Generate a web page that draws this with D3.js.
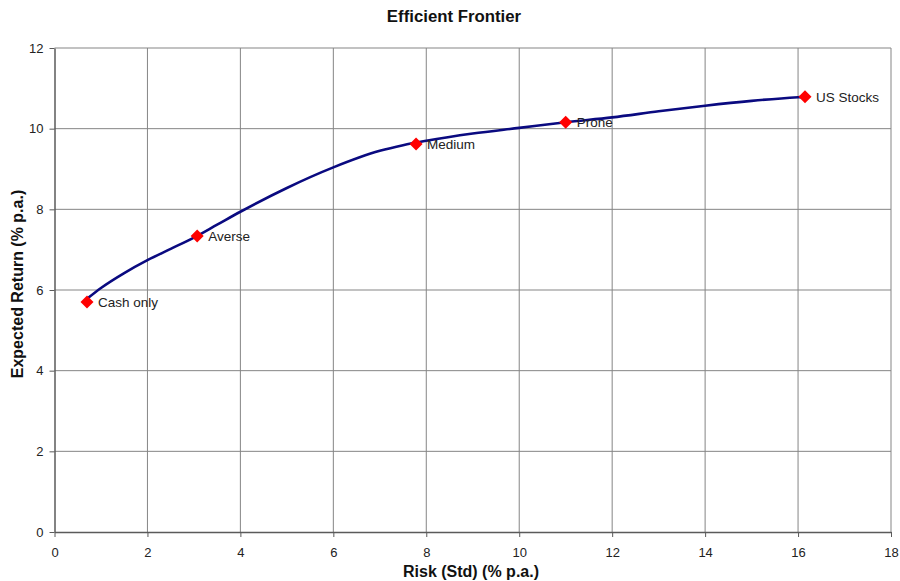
<!DOCTYPE html>
<html><head><meta charset="utf-8">
<script src="https://cdn.jsdelivr.net/npm/d3@7"></script>
<style>body{margin:0;background:#fff;} text{font-family:"Liberation Sans",Arial,sans-serif;}</style>
</head><body><svg id="c" width="900" height="581"></svg>
<script>
const frontierRisk = [0.72, 1, 1.5, 2, 2.5, 3, 3.5, 4, 5, 6, 7, 7.5, 8, 9, 10, 11, 12, 13, 14, 15, 16, 16.15];
const frontierReturn = [5.80, 6.05, 6.42, 6.74, 7.02, 7.30, 7.62, 7.94, 8.53, 9.04, 9.45, 9.59, 9.70, 9.88, 10.02, 10.16, 10.28, 10.43, 10.57, 10.69, 10.78, 10.79];
const portfolioNames = ["Cash only", "Averse", "Medium", "Prone", "US Stocks"];
const portfolioRisk = [0.70, 3.07, 7.78, 11.0, 16.15];
const portfolioReturn = [5.70, 7.34, 9.62, 10.16, 10.79];
const xTicks = [0, 2, 4, 6, 8, 10, 12, 14, 16, 18];
const yTicks = [0, 2, 4, 6, 8, 10, 12];

const svg = d3.select("#c");
const L = 54.5, R = 891, T = 48, B = 532;
const x = d3.scaleLinear().domain([0, 18]).range([L, R]);
const y = d3.scaleLinear().domain([0, 12]).range([B, T]);

// gridlines
svg.append("g").selectAll("line").data(xTicks.slice(1)).join("line")
  .attr("x1", d => x(d)).attr("x2", d => x(d)).attr("y1", T).attr("y2", B)
  .attr("stroke", "#858585").attr("stroke-width", 1);
svg.append("g").selectAll("line").data(yTicks.slice(1)).join("line")
  .attr("x1", L).attr("x2", R).attr("y1", d => y(d)).attr("y2", d => y(d))
  .attr("stroke", "#858585").attr("stroke-width", 1);

// axes
const xAxis = svg.append("g").attr("transform", `translate(0,${B})`)
  .call(d3.axisBottom(x).tickValues(xTicks).tickSize(5).tickSizeOuter(0).tickPadding(11));
const yAxis = svg.append("g").attr("transform", `translate(${L},0)`)
  .call(d3.axisLeft(y).tickValues(yTicks).tickSize(5).tickSizeOuter(0).tickPadding(6));
[xAxis, yAxis].forEach(a => {
  a.select(".domain").attr("stroke", "#5a5a5a").attr("stroke-width", 1.5);
  a.selectAll(".tick line").attr("stroke", "#5a5a5a");
  a.selectAll(".tick text").attr("font-size", 13).attr("fill", "#222")
    .attr("font-family", "Liberation Sans, Arial, sans-serif");
});

// frontier line
const pts = frontierRisk.map((r, i) => [r, frontierReturn[i]]);
svg.append("path").datum(pts)
  .attr("d", d3.line().x(d => x(d[0])).y(d => y(d[1])).curve(d3.curveMonotoneX))
  .attr("fill", "none").attr("stroke", "#0a0a80").attr("stroke-width", 2.6);

// markers
const ports = portfolioNames.map((n, i) => ({n, r: portfolioRisk[i], v: portfolioReturn[i]}));
svg.append("g").selectAll("path").data(ports).join("path")
  .attr("transform", d => `translate(${x(d.r)},${y(d.v)})`)
  .attr("d", "M0,-6.5L6.5,0L0,6.5L-6.5,0Z")
  .attr("fill", "#ff0000");
svg.append("g").selectAll("text").data(ports).join("text")
  .attr("x", d => x(d.r) + 11).attr("y", d => y(d.v) + 5)
  .attr("font-size", 13.5).attr("fill", "#222").text(d => d.n);

// titles
svg.append("text").attr("x", 454).attr("y", 22).attr("text-anchor", "middle")
  .attr("font-size", 16.8).attr("font-weight", "bold").attr("fill", "#111").text("Efficient Frontier");
svg.append("text").attr("x", 471).attr("y", 577).attr("text-anchor", "middle")
  .attr("font-size", 16).attr("font-weight", "bold").attr("fill", "#111").text("Risk (Std) (% p.a.)");
svg.append("text").attr("transform", "translate(23,284) rotate(-90)").attr("text-anchor", "middle")
  .attr("font-size", 16).attr("font-weight", "bold").attr("fill", "#111").text("Expected Return (% p.a.)");
</script></body></html>
